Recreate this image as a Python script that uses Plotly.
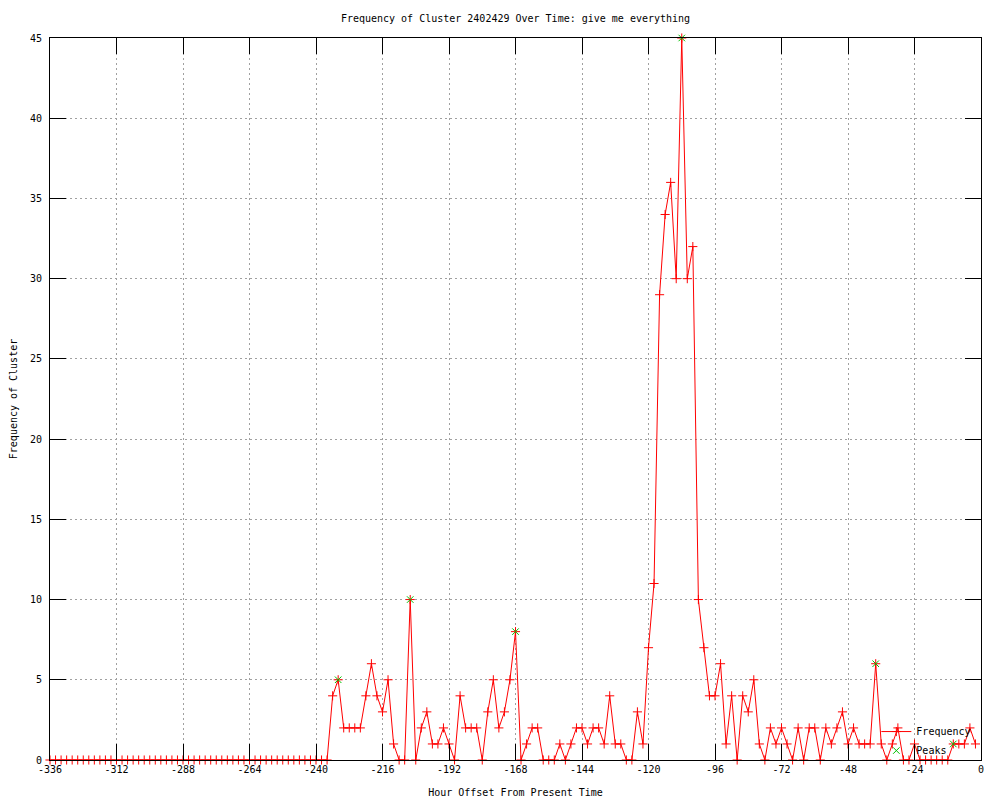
import plotly.graph_objects as go

# Hour offsets (every 2 hours)
hours = [
    -336, -334, -332, -330, -328, -326, -324, -322, -320, -318, -316, -314,
    -312, -310, -308, -306, -304, -302, -300, -298, -296, -294, -292, -290,
    -288, -286, -284, -282, -280, -278, -276, -274, -272, -270, -268, -266,
    -264, -262, -260, -258, -256, -254, -252, -250, -248, -246, -244, -242,
    -240, -238, -236, -234, -232, -230, -228, -226, -224, -222, -220, -218,
    -216, -214, -212, -210, -208, -206, -204, -202, -200, -198, -196, -194,
    -192, -190, -188, -186, -184, -182, -180, -178, -176, -174, -172, -170,
    -168, -166, -164, -162, -160, -158, -156, -154, -152, -150, -148, -146,
    -144, -142, -140, -138, -136, -134, -132, -130, -128, -126, -124, -122,
    -120, -118, -116, -114, -112, -110, -108, -106, -104, -102, -100, -98,
    -96, -94, -92, -90, -88, -86, -84, -82, -80, -78, -76, -74,
    -72, -70, -68, -66, -64, -62, -60, -58, -56, -54, -52, -50,
    -48, -46, -44, -42, -40, -38, -36, -34, -32, -30, -28, -26,
    -24, -22, -20, -18, -16, -14, -12, -10, -8, -6, -4, -2,
]

frequency = [
    0, 0, 0, 0, 0, 0, 0, 0, 0, 0, 0, 0,
    0, 0, 0, 0, 0, 0, 0, 0, 0, 0, 0, 0,
    0, 0, 0, 0, 0, 0, 0, 0, 0, 0, 0, 0,
    0, 0, 0, 0, 0, 0, 0, 0, 0, 0, 0, 0,
    0, 0, 0, 4, 5, 2, 2, 2, 2, 4, 6, 4,
    3, 5, 1, 0, 0, 10, 0, 2, 3, 1, 1, 2,
    1, 0, 4, 2, 2, 2, 0, 3, 5, 2, 3, 5,
    8, 0, 1, 2, 2, 0, 0, 0, 1, 0, 1, 2,
    2, 1, 2, 2, 1, 4, 1, 1, 0, 0, 3, 1,
    7, 11, 29, 34, 36, 30, 45, 30, 32, 10, 7, 4,
    4, 6, 1, 4, 0, 4, 3, 5, 1, 0, 2, 1,
    2, 1, 0, 2, 0, 2, 2, 0, 2, 1, 2, 3,
    1, 2, 1, 1, 1, 6, 1, 0, 1, 2, 0, 0,
    1, 0, 0, 0, 0, 0, 0, 1, 1, 1, 2, 1,
]

peak_hours = [-232, -206, -168, -108, -38, -10]
peak_values = [5, 10, 8, 45, 6, 1]

x_tick_values = [-336, -312, -288, -264, -240, -216, -192, -168, -144, -120, -96, -72, -48, -24, 0]
x_tick_labels = ["-336", "-312", "-288", "-264", "-240", "-216", "-192", "-168",
                 "-144", "-120", "-96", "-72", "-48", "-24", "0"]
y_tick_values = [0, 5, 10, 15, 20, 25, 30, 35, 40, 45]
y_tick_labels = ["0", "5", "10", "15", "20", "25", "30", "35", "40", "45"]

FONT = "DejaVu Sans Mono"
GREEN = "rgb(0,192,0)"

fig = go.Figure()
fig.add_trace(go.Scatter(
    x=hours, y=frequency, mode="lines+markers", name="Frequency",
    line=dict(color="red", width=1),
    marker=dict(symbol="cross-thin", size=6.5, color="red", line=dict(color="red", width=1)),
    cliponaxis=False,
))
fig.add_trace(go.Scatter(
    x=peak_hours, y=peak_values, mode="markers", name="Peaks",
    marker=dict(symbol="x-thin", size=6.5, color=GREEN, line=dict(color=GREEN, width=1)),
    cliponaxis=False,
))

axis_common = dict(
    ticks="inside", ticklen=16, tickcolor="black", tickwidth=1,
    showline=True, linecolor="black", linewidth=1, mirror="allticks",
    showgrid=True, gridcolor="#a0a0a0", gridwidth=1, griddash="2px,3px",
    zeroline=False, automargin=False,
    tickfont=dict(family=FONT, size=10, color="black"),
)

W, H = 992, 792

fig.update_layout(
    width=W, height=H,
    margin=dict(l=42, r=19, t=30, b=40),
    paper_bgcolor="white", plot_bgcolor="white",
    font=dict(family=FONT, size=10, color="black"),
    title=dict(
        text="Frequency of Cluster 2402429 Over Time: give me everything",
        font=dict(family=FONT, size=10, color="black"),
        x=0.5, xref="paper", xanchor="center",
        y=1 - 10 / H, yref="container", yanchor="middle",
    ),
    xaxis=dict(
        range=[-336, 0], tickmode="array", tickvals=x_tick_values, ticktext=x_tick_labels,
        title=dict(text="Hour Offset From Present Time", font=dict(family=FONT, size=10), standoff=14),
        **axis_common,
    ),
    yaxis=dict(
        range=[0, 45], tickmode="array", tickvals=y_tick_values, ticktext=y_tick_labels,
        title=dict(text="Frequency of Cluster", font=dict(family=FONT, size=10), standoff=11),
        ticklabelstandoff=5,
        **axis_common,
    ),
    showlegend=True,
    legend=dict(
        x=0.995, y=-0.007, xanchor="right", yanchor="bottom",
        bgcolor="rgba(0,0,0,0)", font=dict(family=FONT, size=10, color="black"),
        tracegroupgap=0, itemwidth=30,
    ),
)

fig.write_html("out.html")
